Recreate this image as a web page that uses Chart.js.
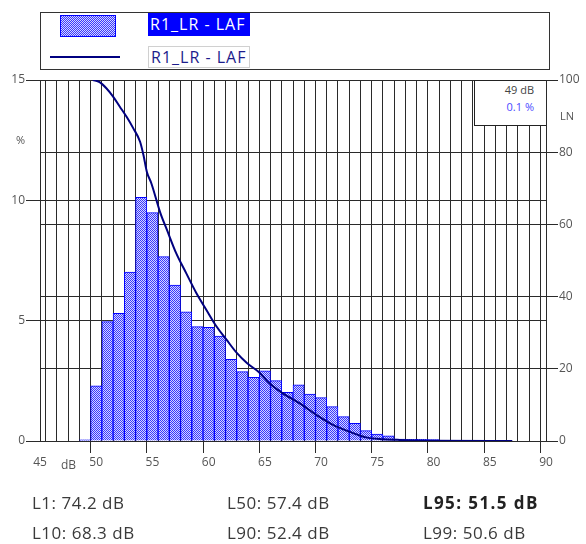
<!DOCTYPE html>
<html>
<head>
<meta charset="utf-8">
<title>R1_LR - LAF</title>
<script src="https://cdn.jsdelivr.net/npm/chart.js"></script>
<style>
  body { margin: 0; background: #fff; font-family: "Open Sans", sans-serif; }
  #wrap { position: relative; width: 586px; height: 544px; }
  #wrap canvas { position: absolute; left: 0; top: 0; }
  .abs { position: absolute; white-space: nowrap; }
  .stat { font-size: 17px; color: #3a3a3a; line-height: 20px; letter-spacing: 0.5px; }
</style>
</head>
<body>
<div id="wrap">
  <canvas id="histChart" width="586" height="544"></canvas>

  <!-- legend -->
  <div class="abs" style="left:40px;top:12px;width:508px;height:56px;border:1px solid #333;background:#fff;"></div>
  <div class="abs" id="swatch" style="left:60px;top:15px;width:54px;height:20px;border:1px solid #0000ff;"></div>
  <div class="abs" style="left:50px;top:56px;width:70px;height:2px;background:#000080;"></div>
  <div class="abs" style="left:148px;top:13px;width:102px;height:23px;background:#0000ff;color:#fff;font-size:16px;line-height:23px;letter-spacing:1px;padding-left:2px;box-sizing:border-box;">R1_LR - LAF</div>
  <div class="abs" style="left:148px;top:46px;width:102px;height:22px;border:1px solid #d0d0d0;color:#1c1c8c;font-size:16px;line-height:20px;letter-spacing:1px;padding-left:2px;box-sizing:border-box;">R1_LR - LAF</div>

  <!-- cursor box -->
  <div class="abs" style="left:474px;top:80px;width:72px;height:46px;background:#fff;border-left:1px solid #222;border-bottom:1px solid #222;border-top:1px solid #222;box-sizing:border-box;"></div>
  <div class="abs" style="left:474px;top:82px;width:60px;text-align:right;font-size:11px;color:#444;">49 dB</div>
  <div class="abs" style="left:474px;top:99px;width:60px;text-align:right;font-size:11px;color:#4b4bff;">0.1 %</div>

  <!-- axis titles -->
  <div class="abs" style="left:16px;top:132px;font-size:11px;color:#555;">%</div>
  <div class="abs" style="left:560px;top:108px;font-size:11px;color:#555;">LN</div>
  <div class="abs" style="left:61px;top:456px;font-size:12px;color:#555;">dB</div>

  <!-- statistics -->
  <div class="abs stat" style="left:32px;top:493px;">L1: 74.2 dB</div>
  <div class="abs stat" style="left:32px;top:523px;">L10: 68.3 dB</div>
  <div class="abs stat" style="left:227px;top:493px;">L50: 57.4 dB</div>
  <div class="abs stat" style="left:227px;top:523px;">L90: 52.4 dB</div>
  <div class="abs stat" style="left:423px;top:493px;font-weight:bold;color:#222;letter-spacing:1.4px;">L95: 51.5 dB</div>
  <div class="abs stat" style="left:423px;top:523px;">L99: 50.6 dB</div>
</div>

<script>
// level classes (dB) and share of time in each (%)
const levels = [49, 50, 51, 52, 53, 54, 55, 56, 57, 58, 59, 60, 61, 62, 63, 64,
                65, 66, 67, 68, 69, 70, 71, 72, 73, 74, 75, 76, 77, 78, 79, 80];
const percents = [0.05, 2.29, 4.96, 5.30, 7.02, 10.12, 9.49, 7.66, 6.48, 5.37, 4.75, 4.72, 4.36, 3.39, 2.88, 2.65,
                  2.92, 2.51, 2.02, 2.33, 1.95, 1.80, 1.43, 1.01, 0.73, 0.43, 0.29, 0.21, 0.08, 0.07, 0.07, 0.06];

// exceedance curve LN
const lnLevels = [49.7, 50.3, 50.9, 51.5, 52.1, 52.7, 53.3, 53.9, 54.2, 54.5, 54.9, 55.7, 56.3, 57.1, 58.0, 58.9,
                  59.8, 60.7, 61.6, 62.5, 63.4, 64.5, 65.4, 66.6, 68.1, 69.6, 71.1, 72.5, 74.0, 75.5, 77.0, 80.0, 85.0, 87.0];
const lnValues = [100, 99.4, 97.7, 95.4, 92.6, 89.8, 86.6, 82.9, 79.2, 74.6, 71.4, 63.2, 58.4, 52.1, 46.5, 41.0,
                  36.3, 31.7, 28.0, 24.4, 21.6, 19.0, 16.0, 13.2, 10.4, 7.2, 4.4, 2.6, 1.0, 0.5, 0.3, 0.1, 0.0, 0.0];

const xMin = 45, xMax = 90;
const pctMax = 15, lnMax = 100;

// dotted fill like the original hatch
const pc = document.createElement('canvas');
pc.width = 2; pc.height = 2;
const pctx = pc.getContext('2d');
pctx.fillStyle = '#d6d6ff';
pctx.fillRect(0, 0, 2, 2);
pctx.fillStyle = '#3838ff';
pctx.fillRect(0, 0, 1, 1);
pctx.fillRect(1, 1, 1, 1);
const ctx = document.getElementById('histChart').getContext('2d');
const hatch = ctx.createPattern(pc, 'repeat');
document.getElementById('swatch').style.background = 'url(' + pc.toDataURL() + ')';

const gridColor = '#2a2a2a';

new Chart(ctx, {
  type: 'bar',
  data: {
    datasets: [
      {
        type: 'line',
        label: 'R1_LR - LAF',
        data: lnLevels.map((x, i) => ({ x: x, y: lnValues[i] })),
        yAxisID: 'y2',
        borderColor: '#000080',
        borderWidth: 2,
        pointRadius: 0,
        cubicInterpolationMode: 'monotone',
        order: 0
      },
      {
        label: 'R1_LR - LAF',
        data: levels.map((x, i) => ({ x: x, y: percents[i] })),
        yAxisID: 'y',
        backgroundColor: hatch,
        borderColor: '#0000ff',
        borderWidth: 1,
        barPercentage: 1,
        categoryPercentage: 1,
        order: 1
      }
    ]
  },
  options: {
    responsive: false,
    animation: false,
    layout: { padding: { top: 80, bottom: 73, left: 0, right: 0 } },
    plugins: { legend: { display: false }, tooltip: { enabled: false } },
    scales: {
      x: {
        type: 'linear',
        min: xMin, max: xMax,
        offset: false,
        afterFit: s => { s.height = 30; },
        ticks: {
          stepSize: 1,
          autoSkip: false,
          maxRotation: 0,
          padding: 2,
          color: '#555',
          font: { family: 'Open Sans', size: 12 },
          callback: v => (v % 5 === 0 ? v : '')
        },
        grid: {
          color: gridColor,
          tickLength: 12,
          tickColor: c => (c.tick && c.tick.value % 5 === 0 ? gridColor : 'rgba(0,0,0,0)')
        },
        border: { color: gridColor }
      },
      y: {
        position: 'left',
        min: 0, max: pctMax,
        afterFit: s => { s.width = 40; },
        ticks: { stepSize: 5, padding: 1, color: '#555', font: { family: 'Open Sans', size: 12 } },
        grid: { color: gridColor, tickLength: 14 },
        border: { color: gridColor }
      },
      y2: {
        position: 'right',
        min: 0, max: lnMax,
        afterFit: s => { s.width = 40; },
        ticks: { stepSize: 20, padding: 1, color: '#555', font: { family: 'Open Sans', size: 12 } },
        grid: { color: gridColor, tickLength: 12 },
        border: { color: gridColor }
      }
    }
  }
});
</script>
</body>
</html>
